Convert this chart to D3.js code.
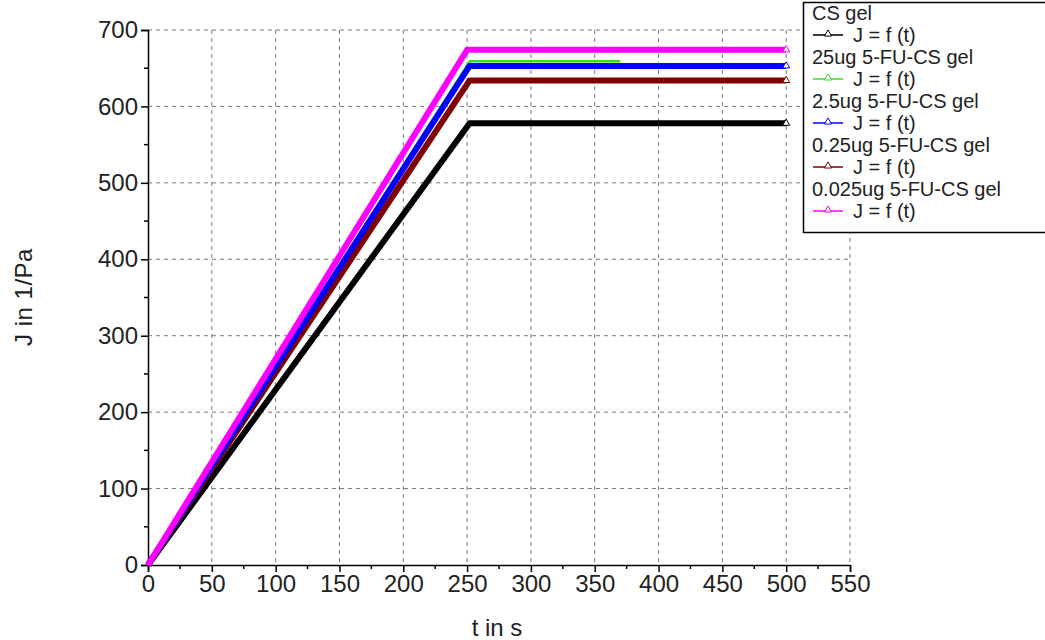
<!DOCTYPE html>
<html>
<head>
<meta charset="utf-8">
<script src="https://cdn.jsdelivr.net/npm/d3@7"></script>
<style>
  body { margin: 0; background: #fff; }
  text { font-family: "Liberation Sans", Arial, sans-serif; fill: #222; }
</style>
</head>
<body>
<div id="chart"></div>
<script>
// Data
var seriesNames = ["CS gel", "25ug 5-FU-CS gel", "2.5ug 5-FU-CS gel", "0.25ug 5-FU-CS gel", "0.025ug 5-FU-CS gel"];
var seriesColors = ["#000000", "#33dd33", "#0000ff", "#800000", "#ff00ff"];
var csTime = [0, 252, 500];
var csJ = [0, 578, 578];
var fu25Time = [0, 252, 370];
var fu25J = [0, 659, 659];
var fu2_5Time = [0, 252, 500];
var fu2_5J = [0, 653, 653];
var fu0_25Time = [0, 252, 500];
var fu0_25J = [0, 634, 634];
var fu0_025Time = [0, 250, 500];
var fu0_025J = [0, 674, 674];
var xTicks = [0, 50, 100, 150, 200, 250, 300, 350, 400, 450, 500, 550];
var yTicks = [0, 100, 200, 300, 400, 500, 600, 700];

var series = [
  { name: seriesNames[0], color: seriesColors[0], t: csTime, j: csJ, w: 6 },
  { name: seriesNames[3], color: seriesColors[3], t: fu0_25Time, j: fu0_25J, w: 6 },
  { name: seriesNames[1], color: seriesColors[1], t: fu25Time, j: fu25J, w: 2.5 },
  { name: seriesNames[2], color: seriesColors[2], t: fu2_5Time, j: fu2_5J, w: 6 },
  { name: seriesNames[4], color: seriesColors[4], t: fu0_025Time, j: fu0_025J, w: 6 }
];

var svgWidth = 1045, svgHeight = 640;
var margin = { left: 148, top: 30 };
var chartWidth = 702, chartHeight = 535;

var svg = d3.select("#chart").append("svg")
  .attr("width", svgWidth)
  .attr("height", svgHeight);

var g = svg.append("g")
  .attr("transform", `translate(${margin.left}, ${margin.top})`);

var x = d3.scaleLinear().domain([0, 550]).range([0, chartWidth]);
var y = d3.scaleLinear().domain([0, 700]).range([chartHeight, 0]);

// grid
g.selectAll(".vgrid").data(xTicks.slice(1)).enter().append("line")
  .attr("x1", d => x(d)).attr("x2", d => x(d))
  .attr("y1", 0).attr("y2", chartHeight)
  .attr("stroke", "#777").attr("stroke-width", 1).attr("stroke-dasharray", "4,4");
g.selectAll(".hgrid").data(yTicks.slice(1)).enter().append("line")
  .attr("x1", 0).attr("x2", chartWidth)
  .attr("y1", d => y(d)).attr("y2", d => y(d))
  .attr("stroke", "#777").attr("stroke-width", 1).attr("stroke-dasharray", "4,4");

// axes
var bottomAxis = d3.axisBottom(x).tickValues(xTicks).tickSize(7).tickPadding(3);
var leftAxis = d3.axisLeft(y).tickValues(yTicks).tickSize(7).tickPadding(3);

var xAxisG = g.append("g").attr("transform", `translate(0, ${chartHeight})`).call(bottomAxis);
var yAxisG = g.append("g").call(leftAxis);

[xAxisG, yAxisG].forEach(function(a) {
  a.select(".domain").attr("stroke", "#000").attr("stroke-width", 1.5);
  a.selectAll(".tick line").attr("stroke", "#000").attr("stroke-width", 1.5);
  a.selectAll(".tick text").attr("font-size", "24px").attr("fill", "#222")
    .attr("font-family", "Liberation Sans, Arial, sans-serif");
});

// minor ticks
g.selectAll(".xminor").data(d3.range(25, 550, 50)).enter().append("line")
  .attr("x1", d => x(d)).attr("x2", d => x(d))
  .attr("y1", chartHeight).attr("y2", chartHeight + 4)
  .attr("stroke", "#000").attr("stroke-width", 1.5);
g.selectAll(".yminor").data(d3.range(50, 700, 100)).enter().append("line")
  .attr("x1", -4).attr("x2", 0)
  .attr("y1", d => y(d)).attr("y2", d => y(d))
  .attr("stroke", "#000").attr("stroke-width", 1.5);

// lines
var line = d3.line().x(d => x(d[0])).y(d => y(d[1]));

series.forEach(function(s) {
  var pts = s.t.map((t, i) => [t, s.j[i]]);
  g.append("path")
    .datum(pts)
    .attr("fill", "none")
    .attr("stroke", s.color)
    .attr("stroke-width", s.w)
    .attr("stroke-linejoin", "round")
    .attr("d", line);
  if (s.t[s.t.length - 1] === 500) {
    g.append("path")
      .attr("d", d3.symbol().type(d3.symbolTriangle).size(22))
      .attr("transform", `translate(${x(500)}, ${y(s.j[s.j.length - 1])})`)
      .attr("fill", "#fff").attr("stroke", s.color).attr("stroke-width", 1);
  }
});

// axis labels
svg.append("text")
  .attr("transform", "translate(32, 297) rotate(-90)")
  .attr("text-anchor", "middle")
  .attr("font-size", "24px")
  .attr("letter-spacing", "0.5px")
  .text("J in 1/Pa");

svg.append("text")
  .attr("x", 497).attr("y", 636)
  .attr("text-anchor", "middle")
  .attr("font-size", "24px")
  .text("t in s");

// legend
var legend = svg.append("g");
legend.append("rect")
  .attr("x", 803.5).attr("y", 2.5)
  .attr("width", 250).attr("height", 230)
  .attr("fill", "#fff").attr("stroke", "#000").attr("stroke-width", 1.5);

seriesNames.forEach(function(name, i) {
  var top = 20 + i * 44;
  legend.append("text")
    .attr("x", 812).attr("y", top)
    .attr("font-size", "20px")
    .text(name);
  var ly = top + 15;
  legend.append("line")
    .attr("x1", 813).attr("x2", 843)
    .attr("y1", ly).attr("y2", ly)
    .attr("stroke", seriesColors[i]).attr("stroke-width", 1.5);
  legend.append("path")
    .attr("d", d3.symbol().type(d3.symbolTriangle).size(22))
    .attr("transform", `translate(828, ${ly - 1})`)
    .attr("fill", "#fff").attr("stroke", seriesColors[i]).attr("stroke-width", 1);
  legend.append("text")
    .attr("x", 853).attr("y", top + 22)
    .attr("font-size", "20px")
    .text("J = f (t)");
});
</script>
</body>
</html>
